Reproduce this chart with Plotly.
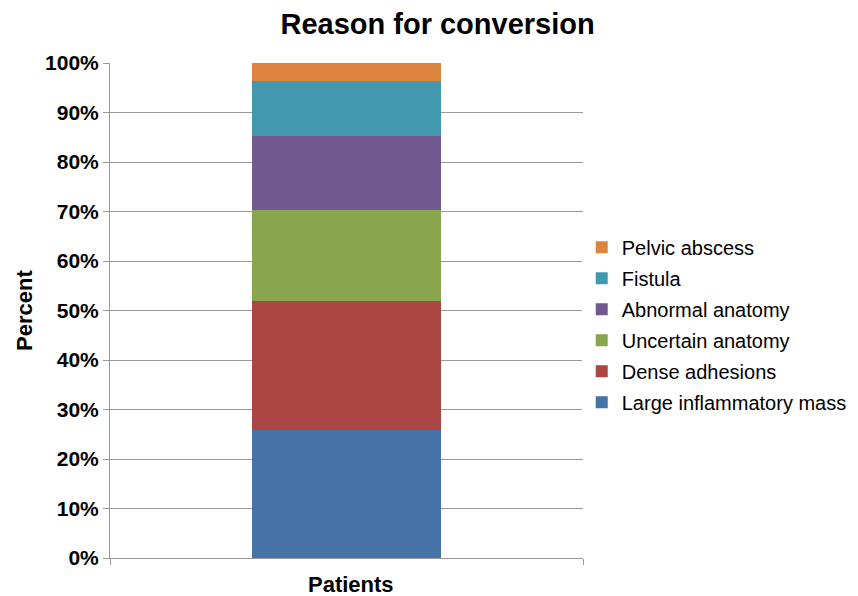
import plotly.graph_objects as go

# Conversion reasons, counts of patients (stacked and normalised to 100%)
reasons = ["Large inflammatory mass", "Dense adhesions", "Uncertain anatomy",
           "Abnormal anatomy", "Fistula", "Pelvic abscess"]
counts = [7, 7, 5, 4, 3, 1]
colors = ["#4572a7", "#aa4643", "#89a54e", "#71588f", "#4198af", "#db843d"]
category = ["Patients"]
y_ticks = [0, 10, 20, 30, 40, 50, 60, 70, 80, 90, 100]
y_tick_labels = [f"{v}%" for v in y_ticks]

FONT = "Liberation Sans, Arial, Helvetica, sans-serif"

fig = go.Figure()
for i, (name, n, c) in enumerate(zip(reasons, counts, colors)):
    fig.add_trace(go.Bar(
        x=category, y=[n], name=name, marker=dict(color=c, line=dict(width=0)),
        width=0.4, legendgroup=f"g{i}", legendrank=100 - i,
    ))

fig.update_layout(
    barmode="stack", barnorm="percent",
    width=858, height=596,
    margin=dict(l=110, r=275, t=63, b=38, autoexpand=False),
    paper_bgcolor="white", plot_bgcolor="white",
    font=dict(family=FONT, color="black"),
    title=dict(text="<b>Reason for conversion</b>", x=0.51, xanchor="center",
               y=0.96, yanchor="middle", font=dict(size=29, family=FONT)),
    showlegend=True,
    legend=dict(xref="container", yref="container", x=0.678, xanchor="left",
                y=0.455, yanchor="middle",
                traceorder="grouped", tracegroupgap=2,
                font=dict(size=20, family=FONT), itemwidth=30),
    xaxis=dict(range=[-0.5, 0.5], showticklabels=False, showline=True,
               linecolor="#999", linewidth=1, ticks="outside",
               tickson="boundaries", ticklen=6, tickcolor="#999",
               showgrid=False, zeroline=False, fixedrange=True),
    yaxis=dict(range=[0, 100], tickmode="array", tickvals=y_ticks,
               ticktext=y_tick_labels,
               tickfont=dict(size=21, family=FONT, weight="bold"),
               showline=True, linecolor="#999", linewidth=1,
               ticks="outside", ticklen=6, tickcolor="#999",
               showgrid=True, gridcolor="#999", gridwidth=1,
               zeroline=False),
    annotations=[
        dict(text="<b>Patients</b>", xref="paper", yref="paper", x=0.51, y=-0.054,
             xanchor="center", yanchor="middle", showarrow=False,
             font=dict(size=22, family=FONT)),
        dict(text="<b>Percent</b>", xref="paper", yref="paper", x=-0.181, y=0.5,
             xanchor="center", yanchor="middle", textangle=-90, showarrow=False,
             font=dict(size=22, family=FONT)),
    ],
)

fig.write_html("out.html")
